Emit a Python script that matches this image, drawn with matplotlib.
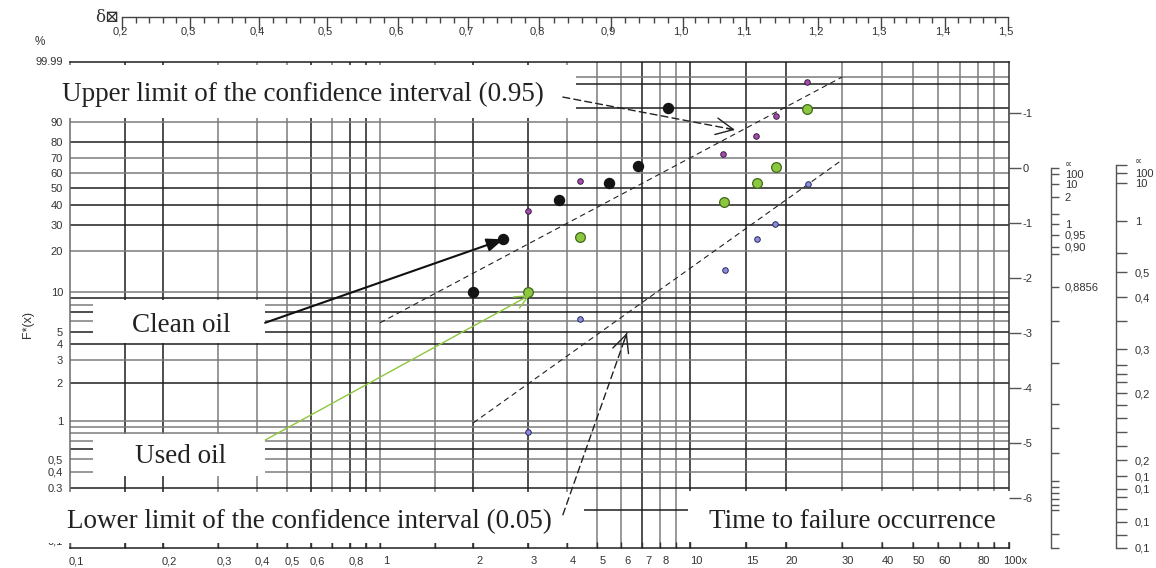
import numpy as np
import matplotlib
matplotlib.use('Agg')
import matplotlib.pyplot as plt
from matplotlib.patches import Rectangle
from matplotlib.transforms import ScaledTranslation
from matplotlib.ticker import FixedLocator, MultipleLocator, NullFormatter

# ---------------- data ----------------
clean_time = [2.0, 2.5, 3.78, 5.48, 6.8, 8.5]
clean_F = [10.0, 24.0, 43.0, 53.5, 65.0, 95.0]
used_time = [3.0, 4.42, 12.8, 16.2, 18.6, 23.2]
used_F = [10.0, 25.0, 42.0, 53.5, 64.0, 94.6]
upper_time = [3.0, 4.42, 12.66, 16.1, 18.6, 23.2]
upper_F = [36.9, 54.8, 72.5, 83.3, 92.6, 99.16]
lower_time = [3.0, 4.42, 12.87, 16.2, 18.5, 23.4]
lower_F = [0.82, 6.25, 14.5, 24.1, 30.4, 52.9]
ci_up_time = [1.0, 30.0]
ci_up_F = [5.84, 99.48]
ci_low_time = [2.0, 30.0]
ci_low_F = [0.97, 68.8]

grid_time = [0.15, 0.2, 0.3, 0.4, 0.5, 0.6, 0.7, 0.8, 0.9, 1, 1.5, 2, 3, 4, 5, 6, 7, 8, 9,
             10, 15, 20, 30, 40, 50, 60, 70, 80, 90]
grid_F = [99.5, 99, 95, 90, 80, 70, 60, 50, 40, 30, 20, 10, 9, 8, 7, 6, 5, 4, 3, 2, 1,
          0.9, 0.8, 0.7, 0.6, 0.5, 0.4, 0.3, 0.2]
x_ticks = [0.1, 0.2, 0.3, 0.4, 0.5, 0.6, 0.8, 1, 2, 3, 4, 5, 6, 7, 8, 10, 15, 20, 30, 40, 50, 60, 80, 100]
x_labels = ['0,1', '0,2', '0,3', '0,4', '0,5', '0,6', '0,8', '1', '2', '3', '4', '5', '6', '7', '8',
            '10', '15', '20', '30', '40', '50', '60', '80', '100x']
y_ticks = [99.9, 90, 80, 70, 60, 50, 40, 30, 20, 10, 5, 4, 3, 2, 1, 0.5, 0.4, 0.3, 0.1]
y_labels = ['99,99', '90', '80', '70', '60', '50', '40', '30', '20', '10', '5', '4', '3', '2', '1',
            '0,5', '0,4', '0.3', '0,1']
lnln_ticks = [1, 0, -1, -2, -3, -4, -5, -6]
lnln_labels = ['-1', '0', '-1', '-2', '-3', '-4', '-5', '-6']
delta_ticks = [0.2, 0.3, 0.4, 0.5, 0.6, 0.7, 0.8, 0.9, 1.0, 1.1, 1.2, 1.3, 1.4, 1.5]
delta_labels = ['0,2', '0,3', '0,4', '0,5', '0,6', '0,7', '0,8', '0,9', '1,0', '1,1', '1,2', '1,3', '1,4', '1,5']
scaleA_pos = [0.005, -0.104, -0.285, -0.522, -0.831, -1.013, -1.213, -1.432, -1.559, -2.159, -2.777,
              -3.541, -4.287, -4.723, -5.178, -5.687, -5.797, -5.906, -6.015, -6.124, -6.215, -6.651, -6.907]
scaleA_labels = ['∝', '100', '10', '2', '', '1', '0,95', '0,90', '', '0,8856', '', '', '', '', '', '',
                 '', '', '', '', '', '', '']
scaleB_pos = [0.06, -0.085, -0.267, -0.96, -1.542, -1.888, -2.342, -2.779, -3.288, -3.579, -3.743,
              -3.888, -4.088, -4.306, -4.543, -4.797, -5.052, -5.307, -5.598, -5.834, -5.98, -6.198,
              -6.434, -6.67, -6.907]
scaleB_labels = ['∝', '100', '10', '1', '', '0,5', '0,4', '', '0,3', '', '', '', '0,2', '', '', '', '',
                 '0,2', '0,1', '0,1', '', '', '0,1', '', '0,1']

# ---------------- layout / style ----------------
W, H = 1156, 568
SANS = ['Liberation Sans', 'DejaVu Sans']
SERIF = ['Liberation Serif', 'DejaVu Serif']
BLK, GRY = '#1e1e1e', '#7c7c7c'
vcol = ['k', 'k', 'g', 'g', 'g', 'k', 'g', 'k', 'k', 'g', 'g', 'k', 'k', 'g', 'g', 'g', 'k', 'g', 'g',
        'k', 'k', 'k', 'g', 'g', 'g', 'g', 'g', 'g', 'g']
hcol = ['g', 'k', 'k', 'g', 'k', 'g', 'g', 'k', 'k', 'k', 'g', 'g', 'k', 'g', 'k', 'g', 'k', 'k', 'g',
        'k', 'g', 'g', 'g', 'g', 'k', 'g', 'g', 'k', 'k']


def fx(px):
    return px / W


def fy(py):
    return 1 - py / H


def pinterp(v, xp, fp):
    v = np.asarray(v, float)
    out = np.interp(v, xp, fp)
    out = np.where(v < xp[0], fp[0] + (v - xp[0]) * (fp[1] - fp[0]) / (xp[1] - xp[0]), out)
    out = np.where(v > xp[-1], fp[-1] + (v - xp[-1]) * (fp[-1] - fp[-2]) / (xp[-1] - xp[-2]), out)
    return out


# paper distortion of the log time axis (decade lengths in px)
LX = [-1.0, 0.0, 1.0, 2.0]
LP = [0.0, 310.0, 620.0, 939.0]


def t_fwd(x):
    x = np.asarray(x, float)
    return pinterp(np.log10(np.where(x > 0, x, 1e-300)), LX, LP)


def t_inv(p):
    return 10 ** pinterp(p, LP, LX)


def F_fwd(F):
    F = np.clip(np.asarray(F, float), 1e-9, 100 - 1e-9)
    return np.log(-np.log(1 - F / 100.0))


def F_inv(z):
    return 100.0 * (1 - np.exp(-np.exp(np.asarray(z, float))))


DPX = [122, 190, 259, 327, 398, 468, 539, 610, 682, 745, 817, 880, 944, 1007]


def d_fwd(d):
    return pinterp(d, delta_ticks, DPX)


def d_inv(p):
    return pinterp(p, DPX, delta_ticks)


fig = plt.figure(figsize=(W / 100, H / 100), dpi=100)
X0, X1, Y0, Y1 = 70, 1009, 62, 548
ax = fig.add_axes([fx(X0), fy(Y1), fx(X1) - fx(X0), fy(Y0) - fy(Y1)])
ax.set_xscale('function', functions=(t_fwd, t_inv))
ax.set_yscale('function', functions=(F_fwd, F_inv))

for t, c in zip(grid_time, vcol):
    ax.axvline(t, color=BLK if c == 'k' else GRY, lw=1.1, zorder=1)
for f, c in zip(grid_F, hcol):
    ax.axhline(f, color=BLK if c == 'k' else GRY, lw=1.1, zorder=1)

for s, c in zip(['left', 'right', 'top', 'bottom'], ['#6a6a6a', '#333333', BLK, BLK]):
    ax.spines[s].set_color(c)
    ax.spines[s].set_linewidth(1.1)

# confidence lines
ax.plot(ci_up_time, ci_up_F, color='#222222', lw=0.8, ls=(0, (5, 3.5)), zorder=3)
ax.plot(ci_low_time, ci_low_F, color='#222222', lw=0.8, ls=(0, (5, 3.5)), zorder=3)

# points
ax.plot(clean_time, clean_F, 'o', ms=7.2, color='#141414', mec='#141414', zorder=5)
ax.plot(used_time, used_F, 'o', ms=7, color='#8dc63f', mec='#3f6a1c', mew=0.9, zorder=5)
ax.plot(upper_time, upper_F, 'o', ms=4, color='#a24ea6', mec='#3b1a45', mew=0.7, zorder=5)
ax.plot(lower_time, lower_F, 'o', ms=4, color='#8c8ce0', mec='#27285c', mew=0.7, zorder=5)

ax.set_xlim(0.1, 100)
ax.set_ylim(0.1, 99.9)

# bottom ticks
ax.xaxis.set_major_locator(FixedLocator(x_ticks))
ax.xaxis.set_minor_locator(FixedLocator(grid_time))
ax.xaxis.set_minor_formatter(NullFormatter())
ax.set_xticklabels(x_labels)
ax.tick_params(axis='x', which='both', direction='in', length=4.5, width=1, color='#333333',
               labelsize=8, labelcolor='#333333', pad=6)
for lab in ax.get_xticklabels():
    lab.set_fontfamily(SANS)
    lab.set_transform(lab.get_transform() + ScaledTranslation(0.06, 0, fig.dpi_scale_trans))

# left ticks
ax.yaxis.set_major_locator(FixedLocator(y_ticks))
ax.yaxis.set_minor_locator(FixedLocator([]))
ax.set_yticklabels(y_labels)
ax.tick_params(axis='y', which='both', length=0, labelsize=8, labelcolor='#333333', pad=5)
ylabs = ax.get_yticklabels()
for lab in ylabs:
    lab.set_fontfamily(SANS)
ylabs[0].set_transform(ylabs[0].get_transform() + ScaledTranslation(0, 0.02, fig.dpi_scale_trans))
ylabs[-1].set_transform(ylabs[-1].get_transform() + ScaledTranslation(0, 0.07, fig.dpi_scale_trans))

# white label boxes that mask the grid
boxes = [(25, 65, 576, 118), (93, 300, 265, 343), (93, 434, 265, 476),
         (40, 492, 584, 543), (688, 491, 1012, 542)]
for x0, y0, x1, y1 in boxes:
    ax.add_artist(Rectangle((fx(x0), fy(y1)), fx(x1) - fx(x0), fy(y0) - fy(y1),
                            transform=fig.transFigure, facecolor='white', edgecolor='none',
                            zorder=4, clip_on=False))

# arrows
fig.canvas.draw()


def dashed_arrow(start, tip, color='#222222'):
    ax.annotate('', xy=tip, xytext=start, xycoords='data', textcoords='data',
                arrowprops=dict(arrowstyle='-', color=color, lw=1.0, ls=(0, (5, 3)),
                                shrinkA=0, shrinkB=0), zorder=6, annotation_clip=False)
    p1 = ax.transData.transform(start)
    p2 = ax.transData.transform(tip)
    L = np.hypot(*(p2 - p1)) * 72 / fig.dpi
    ax.annotate('', xy=tip, xytext=start, xycoords='data', textcoords='data',
                arrowprops=dict(arrowstyle='->,head_length=1.25,head_width=0.6', color=color,
                                lw=1.0, shrinkA=L - 6, shrinkB=0, mutation_scale=10),
                zorder=6, annotation_clip=False)


dashed_arrow((3.89, 97.4), (13.84, 86.6))
dashed_arrow((3.89, 0.183), (6.26, 4.88))
ax.annotate('', xy=(2.5, 24.0), xytext=(0.426, 5.84),
            arrowprops=dict(arrowstyle='-|>,head_length=1.0,head_width=0.4', color='#111111',
                            lw=1.5, shrinkA=0, shrinkB=0, mutation_scale=10),
            zorder=6, annotation_clip=False)
ax.annotate('', xy=(3.05, 9.5), xytext=(0.426, 0.71),
            arrowprops=dict(arrowstyle='->,head_length=1.0,head_width=0.45', color='#8dc63f',
                            lw=1.0, shrinkA=0, shrinkB=0, mutation_scale=10),
            zorder=6, annotation_clip=False)

# big texts
big = dict(fontsize=19.5, family=SERIF, color='#222222', va='baseline', ha='left', zorder=7)
fig.text(fx(62), fy(101), 'Upper limit of the confidence interval (0.95)', **big)
fig.text(fx(132), fy(332), 'Clean oil', **big)
fig.text(fx(135), fy(463), 'Used oil', **big)
fig.text(fx(67), fy(528), 'Lower limit of the confidence interval (0.05)', **big)
fig.text(fx(709), fy(528), 'Time to failure occurrence', **big)

fig.text(fx(40), fy(42), '%', fontsize=8.5, family=SANS, color='#333333', ha='center', va='center')
fig.text(fx(28), fy(325), 'F*(x)', fontsize=9, family=SANS, color='#333333', ha='center',
         va='center', rotation=90)

# top delta axis
axt = fig.add_axes([fx(122), fy(17), fx(1008) - fx(122), 0.01])
axt.patch.set_visible(False)
for s in ['top', 'left', 'right']:
    axt.spines[s].set_visible(False)
axt.spines['bottom'].set_color('#444444')
axt.spines['bottom'].set_linewidth(1.0)
axt.set_xscale('function', functions=(d_fwd, d_inv))
axt.set_xlim(0.2, 1.5)
axt.set_yticks([])
axt.xaxis.set_major_locator(FixedLocator(delta_ticks))
axt.set_xticklabels(delta_labels)
axt.xaxis.set_minor_locator(MultipleLocator(0.02))
axt.tick_params(axis='x', which='major', direction='out', length=9.4, width=1, color='#444444',
                labelsize=8, labelcolor='#333333', pad=-2.5)
axt.tick_params(axis='x', which='minor', direction='out', length=4.5, width=1, color='#444444')
for lab in axt.get_xticklabels():
    lab.set_fontfamily(SANS)
    lab.set_transform(lab.get_transform() + ScaledTranslation(-0.02, 0, fig.dpi_scale_trans))
fig.text(fx(119), fy(17), 'δ⊠', fontsize=12, family=['DejaVu Serif', 'DejaVu Sans'],
         color='#333333', ha='right', va='center')

# right-hand scales (ln ln scale and auxiliary shape scales)
zlim = (float(F_fwd(0.1)), float(F_fwd(99.9)))


def side_scale(xpx, pos, labels, tlen, pad, spine=True, small_first=True):
    a = fig.add_axes([fx(xpx - 10), fy(Y1), fx(10), fy(Y0) - fy(Y1)])
    a.patch.set_visible(False)
    for s in ['top', 'left', 'bottom']:
        a.spines[s].set_visible(False)
    a.spines['right'].set_visible(spine)
    a.spines['right'].set_color('#555555')
    a.spines['right'].set_linewidth(1.0)
    a.set_ylim(*zlim)
    a.spines['right'].set_bounds(min(pos), max(pos))
    a.set_xticks([])
    a.yaxis.tick_right()
    a.set_yticks(pos)
    a.set_yticklabels(labels)
    a.tick_params(axis='y', direction='out', length=tlen, width=1, color='#555555',
                  labelsize=8, labelcolor='#333333', pad=pad)
    labs = a.get_yticklabels()
    for lab in labs:
        lab.set_fontfamily(SANS)
    if small_first:
        labs[0].set_fontsize(7)
        labs[0].set_fontfamily(['DejaVu Sans'])
        labs[0].set_transform(labs[0].get_transform() +
                              ScaledTranslation(0, 0.045, fig.dpi_scale_trans))
    return a


side_scale(X1, lnln_ticks, lnln_labels, 8.6, 1.0, spine=False, small_first=False)
side_scale(1051, scaleA_pos, scaleA_labels, 5.8, 4.0)
side_scale(1116, scaleB_pos, scaleB_labels, 8.0, 5.5)

fig.savefig('out.png', dpi=100)
